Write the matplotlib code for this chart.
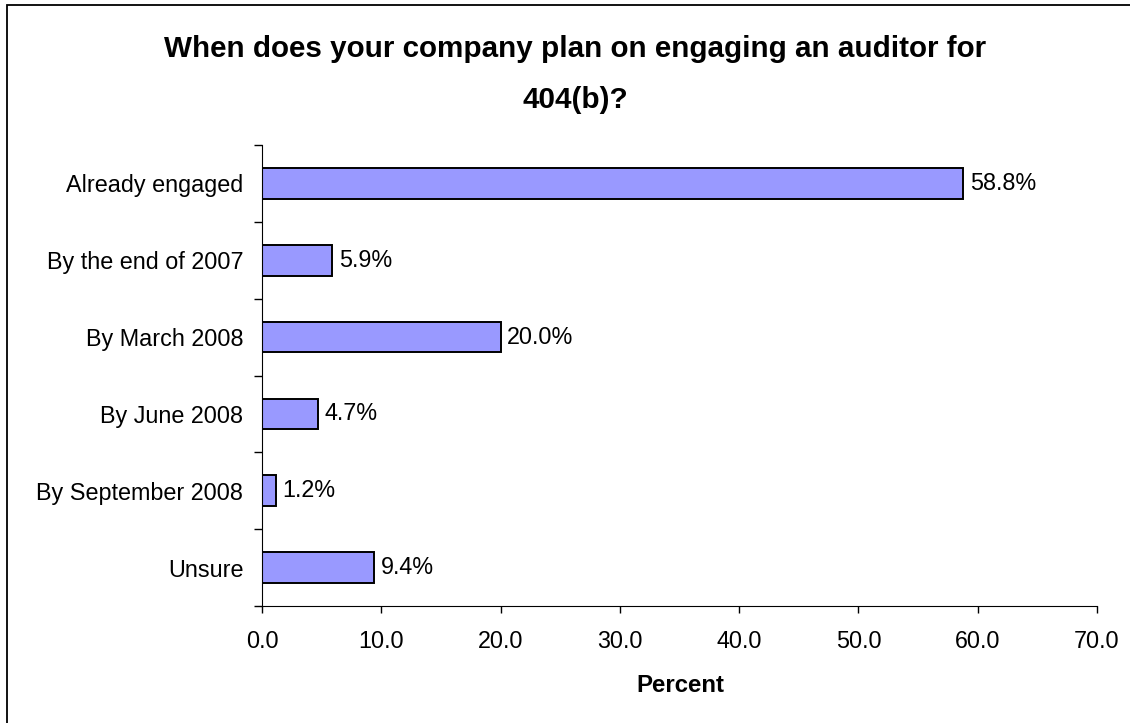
import matplotlib
matplotlib.use("Agg")
import matplotlib.pyplot as plt
from matplotlib.patches import Rectangle

# Survey answers, top to bottom
categorias = ["Already engaged", "By the end of 2007", "By March 2008",
              "By June 2008", "By September 2008", "Unsure"]
porcentajes = [58.8, 5.9, 20.0, 4.7, 1.2, 9.4]
marcas_x = [0, 10, 20, 30, 40, 50, 60, 70]

plt.rcParams['font.family'] = ['Liberation Sans', 'DejaVu Sans']

W, H = 1130, 723
fig = plt.figure(figsize=(W / 100, H / 100), dpi=100)
ax = fig.add_axes([262 / W, 1 - 606 / H, (1097 - 262) / W, (606 - 145) / H])

# marco exterior del grafico (solo izquierda y arriba visibles)
fig.patches.append(Rectangle((7 / W, -0.1), 1.2, 1 - 5.5 / H + 0.1,
                             transform=fig.transFigure, fill=False,
                             edgecolor='black', linewidth=1.3))

pos = list(range(len(categorias)))
ax.barh(pos, porcentajes, height=0.4, color='#9999FF', edgecolor='black', linewidth=1.4)

for p, v in zip(pos, porcentajes):
    ax.annotate(f"{v:.1f}%", (v, p), xytext=(4.5, 0), textcoords='offset points',
                va='center', ha='left', fontsize=16.8)

ax.set_ylim(len(categorias) - 0.5, -0.5)
ax.set_xlim(0, 70)
ax.set_yticks([p - 0.5 for p in pos] + [len(categorias) - 0.5])
ax.set_yticklabels([])
ax.set_yticks(pos, minor=True)
ax.set_yticklabels(categorias, minor=True, fontsize=16.8)
ax.tick_params(axis='y', which='minor', length=0, pad=13.5)
ax.tick_params(axis='y', which='major', length=5.5, width=1, direction='out')
ax.set_xticks(marcas_x)
ax.set_xticklabels([f"{m:.1f}" for m in marcas_x], fontsize=16.8)
ax.tick_params(axis='x', length=5, width=1, direction='out', pad=12)

for lado in ['top', 'right']:
    ax.spines[lado].set_visible(False)

fig.text(680 / W, 1 - 692 / H, "Percent", ha='center', va='baseline',
         fontsize=17.3, fontweight='bold')

cx = 575 / W
fig.text(cx, 1 - 57 / H, "When does your company plan on engaging an auditor for",
         ha='center', va='baseline', fontsize=21.3, fontweight='bold')
fig.text(cx, 1 - 108 / H, "404(b)?", ha='center', va='baseline',
         fontsize=21.3, fontweight='bold')

fig.savefig("out.png", dpi=100, facecolor='white')
